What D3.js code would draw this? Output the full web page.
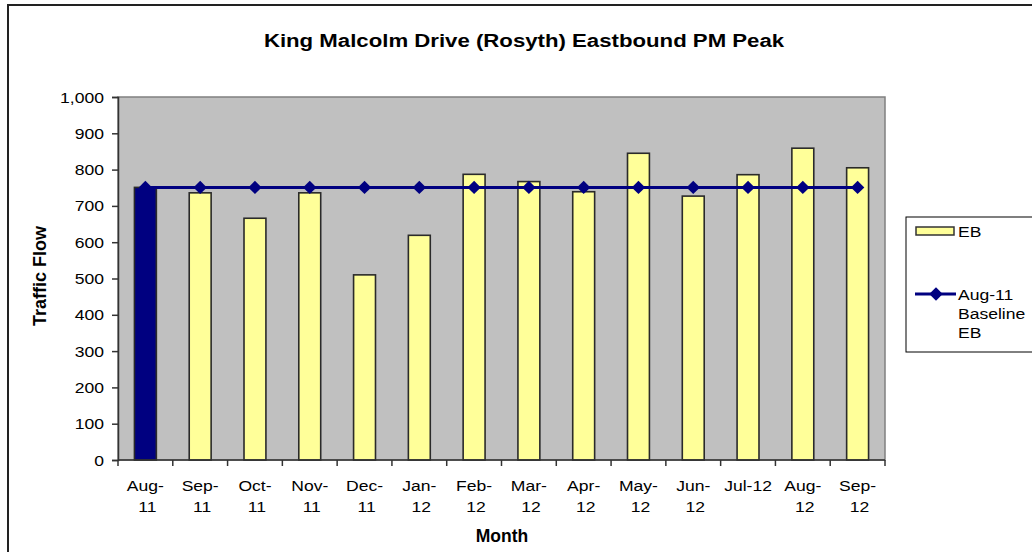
<!DOCTYPE html>
<html><head><meta charset="utf-8">
<script src="https://cdn.jsdelivr.net/npm/d3@7"></script>
<style>body{margin:0;background:#fff}svg{display:block}text{font-family:"Liberation Sans",Arial,sans-serif;fill:#000}</style>
</head><body><svg id="c" width="1032" height="552"></svg>
<script>
const months = ["Aug-11","Sep-11","Oct-11","Nov-11","Dec-11","Jan-12","Feb-12","Mar-12","Apr-12","May-12","Jun-12","Jul-12","Aug-12","Sep-12"];
const tickLabels = [["Aug-","11"],["Sep-","11"],["Oct-","11"],["Nov-","11"],["Dec-","11"],["Jan-","12"],["Feb-","12"],["Mar-","12"],["Apr-","12"],["May-","12"],["Jun-","12"],["Jul-12"],["Aug-","12"],["Sep-","12"]];
const ebValues = [751, 736, 666, 736, 510, 619, 787, 767, 739, 845, 727, 786, 859, 805];
const baselineValues = [751, 751, 751, 751, 751, 751, 751, 751, 751, 751, 751, 751, 751, 751];
const yTicks = [0,100,200,300,400,500,600,700,800,900,1000];

const svg = d3.select("#c");
const SX = 1.2;
function txt(g, x, y, s, size, anchor, bold, sx){
  return g.append("text").attr("transform",`translate(${x},${y}) scale(${sx||SX},1)`)
    .attr("text-anchor",anchor).style("font-size",size+"px").style("font-weight",bold?"bold":"normal").text(s);
}
// outer frame
svg.append("rect").attr("x",8).attr("y",5).attr("width",1100).attr("height",600)
  .attr("fill","#fff").attr("stroke","#222").attr("stroke-width",2);

const L=118,R=885,T=97,B=460;
const x = d3.scaleBand().domain(months).range([L,R]).padding(0);
const y = d3.scaleLinear().domain([0,1000]).range([B,T]);

svg.append("rect").attr("x",L).attr("y",T).attr("width",R-L).attr("height",B-T)
  .attr("fill","#c0c0c0").attr("stroke","#808080").attr("stroke-width",1.5);

const bw = x.bandwidth();
svg.selectAll("rect.bar").data(ebValues).join("rect").attr("class","bar")
  .attr("x",(d,i)=>x(months[i])+bw*0.3).attr("width",bw*0.4)
  .attr("y",d=>y(d)).attr("height",d=>B-y(d))
  .attr("fill",(d,i)=>i===0?"#000080":"#ffff99").attr("stroke","#2a2a2a").attr("stroke-width",1.6);

// axes
const ya = svg.append("g").attr("transform",`translate(${L},0)`)
  .call(d3.axisLeft(y).tickValues(yTicks).tickSize(6).tickFormat(()=>""));
ya.select(".domain").attr("stroke","#333").attr("stroke-width",1.5);
ya.selectAll(".tick line").attr("stroke","#333").attr("stroke-width",1.5);
yTicks.forEach(v=>txt(svg,104,y(v)+5.5,d3.format(",")(v),15,"end",false,1.17));

const xa = svg.append("g").attr("transform",`translate(0,${B})`);
xa.append("line").attr("x1",L).attr("x2",R).attr("stroke","#333").attr("stroke-width",1.5);
const bounds = months.map(m=>x(m)).concat([R]);
xa.selectAll("line.t").data(bounds).join("line").attr("class","t")
  .attr("x1",d=>d).attr("x2",d=>d).attr("y1",0).attr("y2",6).attr("stroke","#333").attr("stroke-width",1.5);
months.forEach((m,i)=>{
  const cx = x(m)+bw/2;
  tickLabels[i].forEach((s,j)=>txt(svg,cx+(j===1?2:0),491+j*21,s,15,"middle",false,1.17));
});

// line
const line = d3.line().x((d,i)=>x(months[i])+bw/2).y(d=>y(d));
svg.append("path").datum(baselineValues).attr("d",line).attr("fill","none").attr("stroke","#000080").attr("stroke-width",3);
svg.selectAll("path.mk").data(baselineValues).join("path").attr("class","mk")
  .attr("d",d3.symbol().type(d3.symbolSquare).size(90)).attr("transform",(d,i)=>`translate(${x(months[i])+bw/2},${y(d)}) rotate(45)`)
  .attr("fill","#000080");

// titles
txt(svg,524,47,"King Malcolm Drive (Rosyth) Eastbound PM Peak",18.5,"middle",true,1.2);
svg.append("text").attr("transform","translate(46,276) rotate(-90)").attr("text-anchor","middle")
  .style("font-size","18px").style("font-weight","bold").text("Traffic Flow");
txt(svg,502,542,"Month",17.5,"middle",true,1);

// legend
const lg = svg.append("g");
lg.append("rect").attr("x",906).attr("y",217).attr("width",200).attr("height",135).attr("fill","#fff").attr("stroke","#000").attr("stroke-width",1);
lg.append("rect").attr("x",916).attr("y",227).attr("width",38).attr("height",8).attr("fill","#ffff99").attr("stroke","#333").attr("stroke-width",1.5);
txt(lg,958,237,"EB",15,"start",false,1.17);
lg.append("line").attr("x1",915).attr("x2",956).attr("y1",294).attr("y2",294).attr("stroke","#000080").attr("stroke-width",3);
lg.append("path").attr("d",d3.symbol().type(d3.symbolSquare).size(90)).attr("transform","translate(936,294) rotate(45)").attr("fill","#000080");
txt(lg,958,300,"Aug-11",15,"start",false,1.17);
txt(lg,958,319,"Baseline",15,"start",false,1.17);
txt(lg,958,338,"EB",15,"start",false,1.17);
</script></body></html>
